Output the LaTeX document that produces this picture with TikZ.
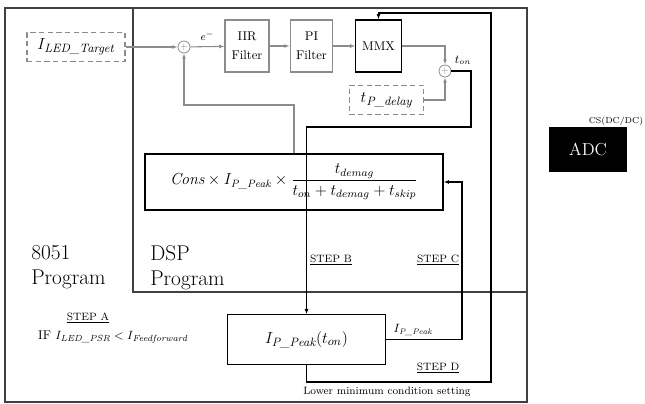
\documentclass[tikz,border=0pt]{standalone}
\usepackage{amsmath}
\usepackage{fontspec}
\usetikzlibrary{arrows.meta}
\definecolor{sigGray}{gray}{0.55}
\definecolor{frameGray}{gray}{0.25}
\newcommand{\sub}[1]{\textit{#1}}
\tikzset{
  sigbox/.style={draw=sigGray, line width=0.8pt, inner sep=0pt, minimum width=33pt, minimum height=39pt, align=center, font=\fontsize{9.5}{14}\selectfont},
  dashbox/.style={draw=sigGray, dash pattern=on 4pt off 2.5pt, line width=0.8pt, inner sep=0pt, minimum height=22pt},
  sumnode/.style={circle, draw=sigGray, line width=0.6pt, inner sep=0pt, minimum size=9pt, text=sigGray, font=\fontsize{7}{7}\selectfont},
  sigline/.style={draw=sigGray, line width=0.8pt, -{Latex[length=4pt,width=3pt]}},
  blkline/.style={line width=0.9pt, -{Latex[length=4pt,width=3pt]}},
  steplabel/.style={font=\fontsize{8}{9}\selectfont},
  bigtext/.style={anchor=north west, align=left, inner sep=0pt, font=\fontsize{16}{19}\selectfont},
  calcbox/.style={draw=black, line width=0.9pt, inner sep=0pt},
}
\begin{document}
\begin{tikzpicture}[x=0.75pt, y=-0.75pt]
  \useasboundingbox (0,0) rectangle (645,403);
  % program frames
  \draw[frameGray, line width=1.2pt] (5,8) rectangle (527,402);
  \draw[frameGray, line width=1.2pt] (133,8) -- (133,292) -- (527,292);
  \node[bigtext] (p8051) at (31,245) {8051\\Program};
  \node[bigtext] (pdsp) at (150,245) {DSP\\Program};

  % control loop
  \node[dashbox, minimum width=73.5pt, font=\fontsize{13}{15}\selectfont] (iled) at (76,47) {$I_{\sub{LED\_Target}}$};
  \node[sumnode] (sum1) at (184,47) {$+$};
  \node[sigbox] (iir) at (247,46) {IIR\\Filter};
  \node[sigbox, minimum width=32pt] (pi) at (311.5,46) {PI\\Filter};
  \node[sigbox, draw=black, minimum width=34pt] (mmx) at (378.5,46) {MMX};
  \node[sumnode] (sum2) at (445,71) {$+$};
  \node[dashbox, minimum width=56pt, font=\fontsize{13}{15}\selectfont] (tdel) at (386.5,100) {$t_{\sub{P\_delay}}$};
  \node[font=\fontsize{9}{10}\selectfont] (ton) at (463,60) {$t_{on}$};
  \node[calcbox, minimum width=223.5pt, minimum height=42pt, font=\fontsize{12}{14}\selectfont] (cons) at (294,182) {$\mathit{Cons}\times I_{\sub{P\_Peak}}\times\dfrac{t_{demag}}{t_{on}+t_{demag}+t_{skip}}$};
  \node[calcbox, minimum width=119pt, minimum height=37pt, font=\fontsize{13}{15}\selectfont] (ppeak) at (306.5,339.5) {$I_{\sub{P\_Peak}}(t_{on})$};

  \draw[sigline] (iled) -- (sum1);
  \draw[sigline] (sum1) -- (iir) node[midway, above=1pt, text=black, font=\fontsize{8}{9}\selectfont] (err) {$e^{-}$};
  \draw[sigline] (iir) -- (pi);
  \draw[sigline] (pi) -- (mmx);
  \draw[sigline] (mmx.east) -| (sum2.north);
  \draw[sigline] (tdel.east) -| (sum2.south);
  \coordinate (fb) at (294,105);
  \draw[sigline] (cons.north) -- (fb) -| (sum1.south);

  % steps
  \coordinate (tonR) at (471,127);
  \draw[blkline] (sum2.east) -| (tonR) -| (ppeak.north);
  \coordinate (cRight) at (462,260);
  \draw[blkline] (ppeak.east) -| (cRight) |- (cons.east);
  \coordinate (dBot) at (491,382);
  \coordinate (dTop) at (491,13);
  \draw[blkline] (ppeak.south) |- (dBot) -- (dTop) -| (mmx.north);

  \node[font=\fontsize{9}{10}\selectfont] (ipk) at (413,330) {$I_{\sub{P\_Peak}}$};
  \node[steplabel] (stepA) at (88,318) {\underline{STEP A}};
  \node[font=\fontsize{9.5}{11}\selectfont] (cond) at (113,337) {IF $I_{\sub{LED\_PSR}} < I_{\sub{Feedforward}}$};
  \node[steplabel] (stepB) at (331,260) {\underline{STEP B}};
  \node[steplabel] (stepC) at (438,260) {\underline{STEP C}};
  \node[steplabel] (stepD) at (438,368) {\underline{STEP D}};
  \node[font=\fontsize{8}{9}\selectfont] (lowmin) at (387,392) {Lower minimum condition setting};

  % converter
  \node[fill=black, text=white, minimum width=58.5pt, minimum height=34pt, inner sep=0pt, font=\fontsize{13}{14}\selectfont] (adc) at (588,149.5) {ADC};
  \node[font=\fontsize{6.5}{7}\selectfont] (cs) at (616,121) {CS(DC/DC)};
\end{tikzpicture}
\end{document}
